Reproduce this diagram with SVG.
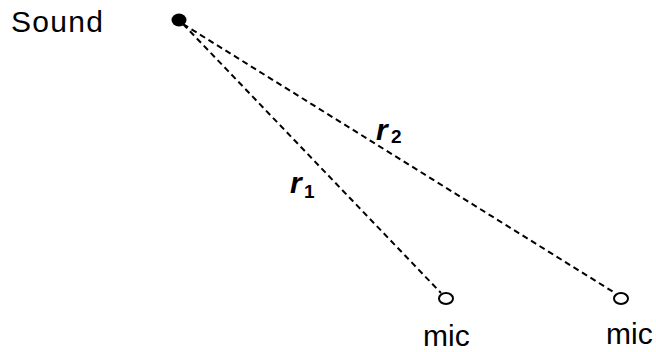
<svg xmlns="http://www.w3.org/2000/svg" width="656" height="352" viewBox="0 0 656 352">
<style>
.t{font-family:"Liberation Sans",Arial,sans-serif;font-size:30px;fill:#000}
.r{font-family:"Liberation Sans",Arial,sans-serif;font-size:30px;font-weight:bold;font-style:italic;fill:#000}
.s{font-family:"Liberation Sans",Arial,sans-serif;font-size:19px;font-weight:bold;fill:#000}
.d{stroke:#000;stroke-width:2;stroke-dasharray:6,4;fill:none}
.m{fill:#fff;stroke:#000;stroke-width:2}
</style>
<rect width="656" height="352" fill="#fff"/>
<g id="connectors">
<line class="d" x1="183" y1="24" x2="441" y2="293"/>
<line class="d" x1="183" y1="24" x2="615" y2="293"/>
</g>
<g id="sound">
<ellipse cx="179" cy="20" rx="7.5" ry="6.5" fill="#000"/>
<text class="t" x="11" y="32" textLength="92">Sound</text>
</g>
<g id="mic1">
<ellipse class="m" cx="446" cy="298.5" rx="7" ry="5.5"/>
<text class="t" x="423" y="346">mic</text>
</g>
<g id="mic2">
<ellipse class="m" cx="621" cy="298.5" rx="7" ry="5.5"/>
<text class="t" x="606" y="343.5">mic</text>
</g>
<g id="labels">
<text class="r" x="376" y="140">r</text><text class="s" x="391" y="143">2</text>
<text class="r" x="290" y="193">r</text><text class="s" x="304" y="198">1</text>
</g>
</svg>
